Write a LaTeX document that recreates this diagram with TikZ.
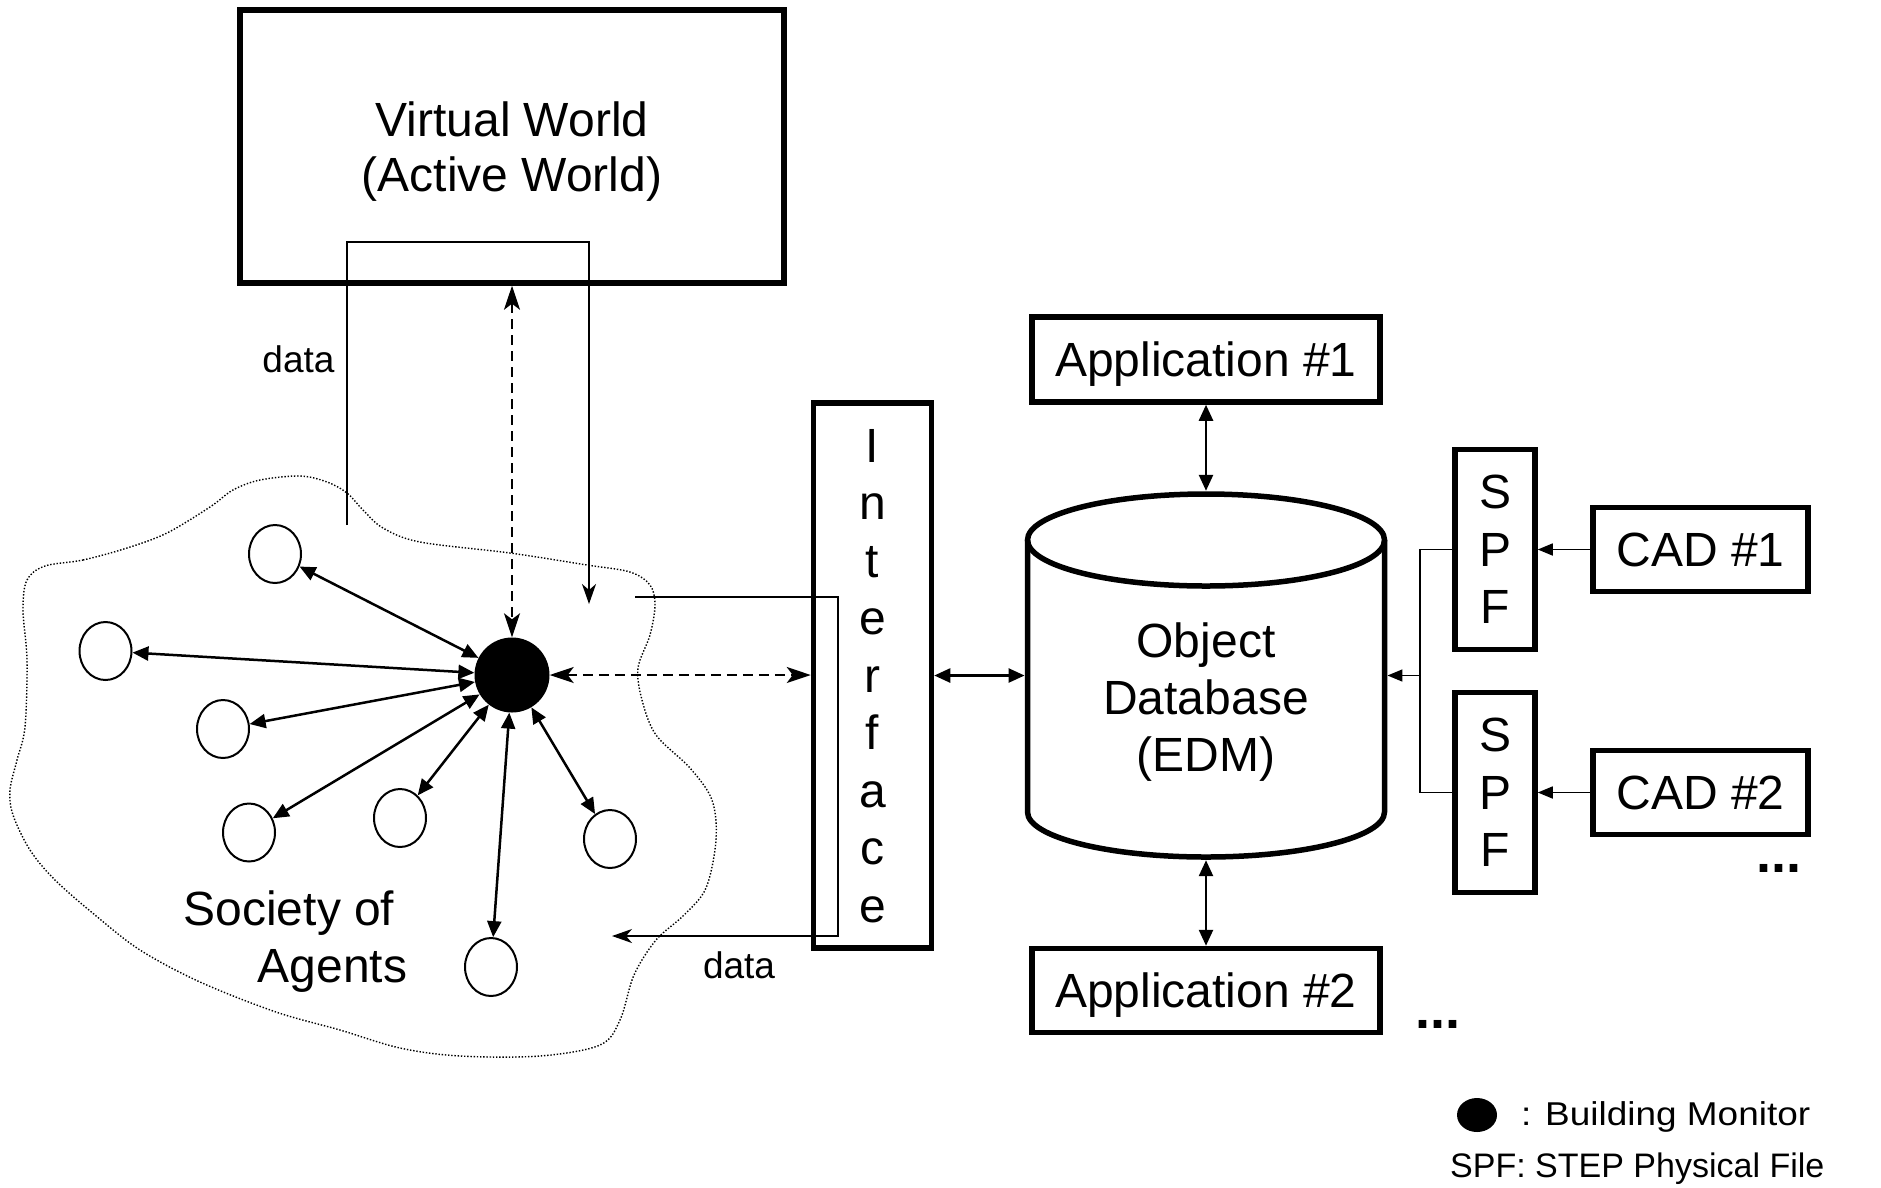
\documentclass[tikz,border=0pt]{standalone}
\usepackage{fontspec}
\setmainfont{Liberation Sans}
\usetikzlibrary{arrows.meta,shapes.geometric}
\begin{document}
\begin{tikzpicture}[x=1pt,y=-1pt,
  font=\fontsize{48}{57}\selectfont,
  box/.style={draw, line width=5.5pt, inner sep=0pt, align=center, text depth=0pt},
  agent/.style={draw, ellipse, line width=2pt, minimum width=52pt, minimum height=58pt, inner sep=0pt},
  monitor/.style={circle, fill=black, minimum size=75pt, inner sep=0pt},
  link/.style={line width=2.5pt, {Triangle[length=16pt,width=14pt]}-{Triangle[length=16pt,width=14pt]}},
  dlink/.style={line width=2pt, dash pattern=on 10pt off 6pt, {Stealth[length=24pt,width=16pt,inset=6pt]}-{Stealth[length=24pt,width=16pt,inset=6pt]}},
  dataline/.style={line width=1.6pt},
  dataarrow/.style={line width=1.6pt, -{Stealth[length=20pt,width=14pt,inset=6pt]}},
  feed/.style={line width=1.6pt, -{Triangle[length=15pt,width=12pt]}},
  cloudline/.style={line width=1.4pt, dash pattern=on 1.4pt off 1.8pt},
  lbl/.style={inner sep=0pt, anchor=base, font=\fontsize{37}{44}\selectfont},
  dots/.style={inner sep=0pt, anchor=base, font=\bfseries\fontsize{54}{60}\selectfont},
]
\fill[white] (0,0) rectangle (1881,1187);
\useasboundingbox (0,0) rectangle (1881,1187);

% cloud (society of agents)
\draw[cloudline] plot[smooth cycle, tension=0.55] coordinates {
 (45,566) (83,560) (127,548) (167,533) (210,507) (233,490) (260,480) (300,476)
 (327,482) (347,493) (363,510) (383,528) (420,542) (510,553) (587,565) (630,572)
 (650,585) (655,605) (650,635) (638,668) (642,700) (656,735) (690,768) (712,800)
 (716,840) (706,888) (684,915) (656,940) (634,975) (620,1020) (600,1045) (540,1056)
 (460,1056) (400,1048) (340,1030) (276,1012) (200,982) (140,950) (95,915) (55,880)
 (30,850) (13,815) (10,790) (17,760) (25,727) (27,660) (23,610) (27,580)};

% main boxes
\node[box, minimum width=544pt, minimum height=273pt, font=\fontsize{48}{55}\selectfont] (vw) at (512,146.5) {Virtual World\\(Active World)};
\node[box, minimum width=118pt, minimum height=545pt, font=\fontsize{48}{57.5}\selectfont] (iface) at (872.5,675.5) {I\\n\\t\\e\\r\\f\\a\\c\\e};
\node[box, minimum width=348pt, minimum height=85pt] (app1) at (1206,359.5) {Application \#1};
\node[box, minimum width=348pt, minimum height=84pt] (app2) at (1206,990.5) {Application \#2};
\node[box, minimum width=80pt, minimum height=200pt, font=\fontsize{48}{57.5}\selectfont] (spf1) at (1495,549.5) {S\\P\\F};
\node[box, minimum width=80pt, minimum height=200pt, font=\fontsize{48}{57.5}\selectfont] (spf2) at (1495,792.5) {S\\P\\F};
\node[box, minimum width=215pt, minimum height=84pt] (cad1) at (1700.5,549.5) {CAD \#1};
\node[box, minimum width=215pt, minimum height=84pt] (cad2) at (1700.5,792.5) {CAD \#2};

% database cylinder
\node[minimum width=362.5pt, minimum height=369pt, inner sep=0pt] (db) at (1206,675.5) {};
\draw[line width=5.5pt] (1206,540) ellipse [x radius=178.5pt, y radius=46pt];
\draw[line width=5.5pt] (1027.5,540) -- (1027.5,812) arc[start angle=180, end angle=360, x radius=178.5pt, y radius=45pt] -- (1384.5,540);
\node[align=center, inner sep=0pt, text depth=0pt] (dbtext) at (1206,697) {Object\\Database\\(EDM)};

% agents
\node[monitor] (bm) at (512,675) {};
\node[agent] (a1) at (275,554) {};
\node[agent] (a2) at (105.5,651) {};
\node[agent] (a3) at (223,729) {};
\node[agent] (a4) at (249,832.5) {};
\node[agent] (a5) at (400,818) {};
\node[agent] (a6) at (610,839) {};
\node[agent] (a7) at (491,967) {};
\foreach \a in {a1,a2,a3,a4,a5,a6,a7} \draw[link] (bm) -- (\a);

\node[inner sep=0pt, anchor=base] (soc1) at (289,925) {Society of};
\node[inner sep=0pt, anchor=base] (soc2) at (332.5,982) {Agents};

% data loops
\coordinate (d1s) at (347,525);
\coordinate (d1e) at (589,604);
\draw[dataarrow] (d1s) -- (347,242) -- (589,242) -- (d1e);
\node[lbl] (data1) at (298.5,372) {data};
\coordinate (d2s) at (635,597);
\coordinate (d2e) at (612,936);
\draw[dataarrow] (d2s) -- (838,597) -- (838,936) -- (d2e);
\node[lbl] (data2) at (739,978) {data};

% dashed links
\draw[dlink] (vw.south -| bm.north) -- (bm.north);
\draw[dlink] (bm.east) -- (iface.west |- bm.east);

% database links
\draw[link] (iface.east) -- (db.west);
\draw[link] (app1.south) -- (db.north);
\draw[link] (db.south) -- (app2.north);

% SPF / CAD
\draw[feed] (cad1.west) -- (spf1.east |- cad1.west);
\draw[feed] (cad2.west) -- (spf2.east |- cad2.west);
\coordinate (jn) at (1420,675.5);
\draw[dataline] (spf1.west) -| (jn) |- (spf2.west);
\draw[feed] (jn) -- (db.east |- jn);

% dots
\node[dots] (dotsA) at (1437.5,1028) {...};
\node[dots] (dotsB) at (1778.5,872) {...};

% legend
\node[ellipse, fill=black, minimum width=40pt, minimum height=34pt, inner sep=0pt] (leg) at (1477,1115) {};
\node[inner sep=0pt, anchor=base west, font=\fontsize{33}{40}\selectfont] (leg1) at (1521,1125) {\scalebox{1.12}[1]{: Building Monitor}};
\node[inner sep=0pt, anchor=base west, font=\fontsize{34}{40}\selectfont] (leg2) at (1450,1177) {SPF: STEP Physical File};
\end{tikzpicture}
\end{document}
